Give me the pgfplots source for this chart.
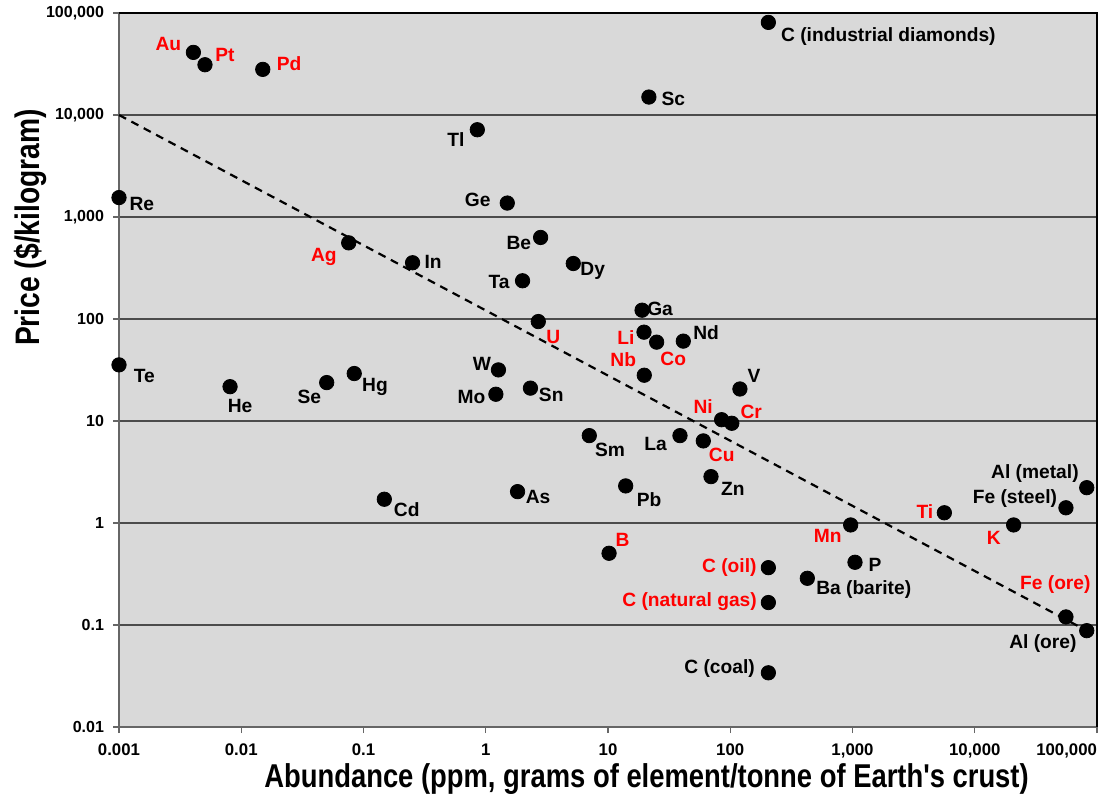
\documentclass[border=0pt]{standalone}
\usepackage{fontspec}
\setmainfont{Liberation Sans}
\usepackage{graphicx}
\usepackage{pgfplots}
\usepackage{pgfplotstable}
\pgfplotsset{compat=1.18}
\newcommand{\lblfont}{\bfseries\fontsize{9.6}{11}\selectfont}
\pgfplotstableread[col sep=comma,row sep=\\]{
x,y,label,dx,dy\\
0.00406,41100,Au,-12.5,4.2\\
0.00505,31100,Pt,10,5\\
0.0150,28000,Pd,13.2,2.7\\
0.0757,558,Ag,-12.4,-6.9\\
2.69,94.4,U,7.5,-7.8\\
19.7,74.3,Li,-9,-2.5\\
25.0,59.3,Co,8.3,-8.4\\
19.8,28.1,Nb,-10.5,7.7\\
85,10.3,Ni,-9.2,6.7\\
103,9.5,Cr,9.7,5.8\\
60.2,6.38,Cu,9.2,-7\\
10.2,0.505,B,6.7,6.7\\
205,0.365,C (oil),-19.5,0.2\\
205,0.166,C (natural gas),-39.4,0.5\\
966,0.957,Mn,-11.5,-5.4\\
5640,1.26,Ti,-9.7,0.7\\
20800,0.957,K,-9.9,-6.4\\
55700,0.120,Fe (ore),-5.3,16\\
}\redtab
\pgfplotstableread[col sep=comma,row sep=\\]{
x,y,label,dx,dy\\
0.001,1550,Re,11.4,-3.2\\
0.853,7170,Tl,-10.7,-5\\
1.50,1370,Ge,-14.8,1.7\\
21.6,15000,Sc,12.2,-0.9\\
205,80900,C (industrial diamonds),60,-7\\
0.252,356,In,10.3,0.4\\
2.81,630,Be,-10.9,-2.8\\
5.2,350,Dy,9.7,-3.7\\
2.0,237,Ta,-11.7,-0.4\\
0.001,35.5,Te,12.7,-5.4\\
0.0081,21.7,He,5,-9.7\\
0.05,23.8,Se,-8.7,-7\\
0.084,29.2,Hg,10.4,-6.5\\
0.148,1.71,Cd,11.2,-5\\
1.27,31.7,W,-8.3,3\\
1.21,18.3,Mo,-12.2,-1.2\\
2.32,21.0,Sn,10.4,-3.4\\
19.0,122,Ga,9,0.7\\
41.3,60.7,Nd,11.4,4\\
120,20.6,V,7,6.7\\
7.03,7.19,Sm,10.4,-7.2\\
38.8,7.19,La,-12.2,-4.2\\
69.6,2.85,Zn,10.9,-6.2\\
1.82,2.03,As,10.3,-2.5\\
13.95,2.31,Pb,11.7,-6.7\\
205,0.034,C (coal),-24.4,1.9\\
1048,0.412,P,10,-1.4\\
427,0.287,Ba (barite),28.2,-5.4\\
82400,2.22,Al (metal),-25.9,7.2\\
55700,1.41,Fe (steel),-25.5,4.5\\
82400,0.088,Al (ore),-21.9,-6.3\\
}\blacktab
\begin{document}
\begin{tikzpicture}
\begin{axis}[
  scale only axis,
  width=489pt, height=357pt,
  xmode=log, ymode=log,
  xmin=0.001, xmax=100000, ymin=0.01, ymax=100000,
  clip=false,
  axis background/.style={fill=gray!30},
  axis line style={draw=gray!80!black, line width=0.6pt},
  xtick={0.001,0.01,0.1,1,10,100,1000,10000,100000},
  xticklabels={{0.001},{0.01},{0.1},{1},{10},{100},{1,000},{10,000},{\llap{100,000}}},
  ytick={0.01,0.1,1,10,100,1000,10000,100000},
  yticklabels={{0.01},{0.1},{1},{10},{100},{1,000},{10,000},{100,000}},
  xminorticks=false, yminorticks=false,
  tick align=outside,
  xtick pos=bottom, ytick pos=left,
  major tick length=3pt,
  tick style={draw=gray!80!black, line width=0.6pt},
  ymajorgrids,
  major grid style={draw=black!70, line width=0.7pt},
  tick label style={font=\bfseries\fontsize{8}{9.5}\selectfont},
  xticklabel style={yshift=-2pt, font=\bfseries\fontsize{8.4}{9.5}\selectfont},
  yticklabel style={xshift=-1pt},
  xlabel={\scalebox{0.83}[1]{\bfseries\fontsize{16.5}{18}\selectfont Abundance (ppm, grams of element/tonne of Earth\textquotesingle s crust)}},
  ylabel={\scalebox{0.83}[1]{\bfseries\fontsize{17}{18}\selectfont Price (\$/kilogram)}},
  xlabel style={at={(axis description cs:0.5394,-0.0728)}, anchor=center},
  ylabel style={at={(axis description cs:-0.091,0.6996)}, anchor=center},
  lbl/.style={only marks, mark=*, mark size=3.6pt, mark options={fill=black, draw=black},
    point meta=explicit symbolic,
    visualization depends on={\thisrow{dx}\as\dx},
    visualization depends on={\thisrow{dy}\as\dy},
    nodes near coords,
    every node near coord/.append style={anchor=center, xshift=\dx pt, yshift=\dy pt, text=#1, font=\lblfont, inner sep=0pt}},
]
\addplot[black, line width=1.1pt, dash pattern=on 4pt off 3pt] coordinates {(0.001,10000) (82400,0.088)};
\addplot[lbl=red] table[x=x, y=y, meta=label] {\redtab};
\addplot[lbl=black] table[x=x, y=y, meta=label] {\blacktab};
\draw[black, line width=0.8pt] (rel axis cs:0,1) -- (rel axis cs:1,1) -- (rel axis cs:1,0);
\end{axis}
\pgfresetboundingbox
\path ([shift={(-59.5pt,-35pt)}]current axis.south west) rectangle ([shift={(4pt,6.5pt)}]current axis.north east);
\end{tikzpicture}
\end{document}
